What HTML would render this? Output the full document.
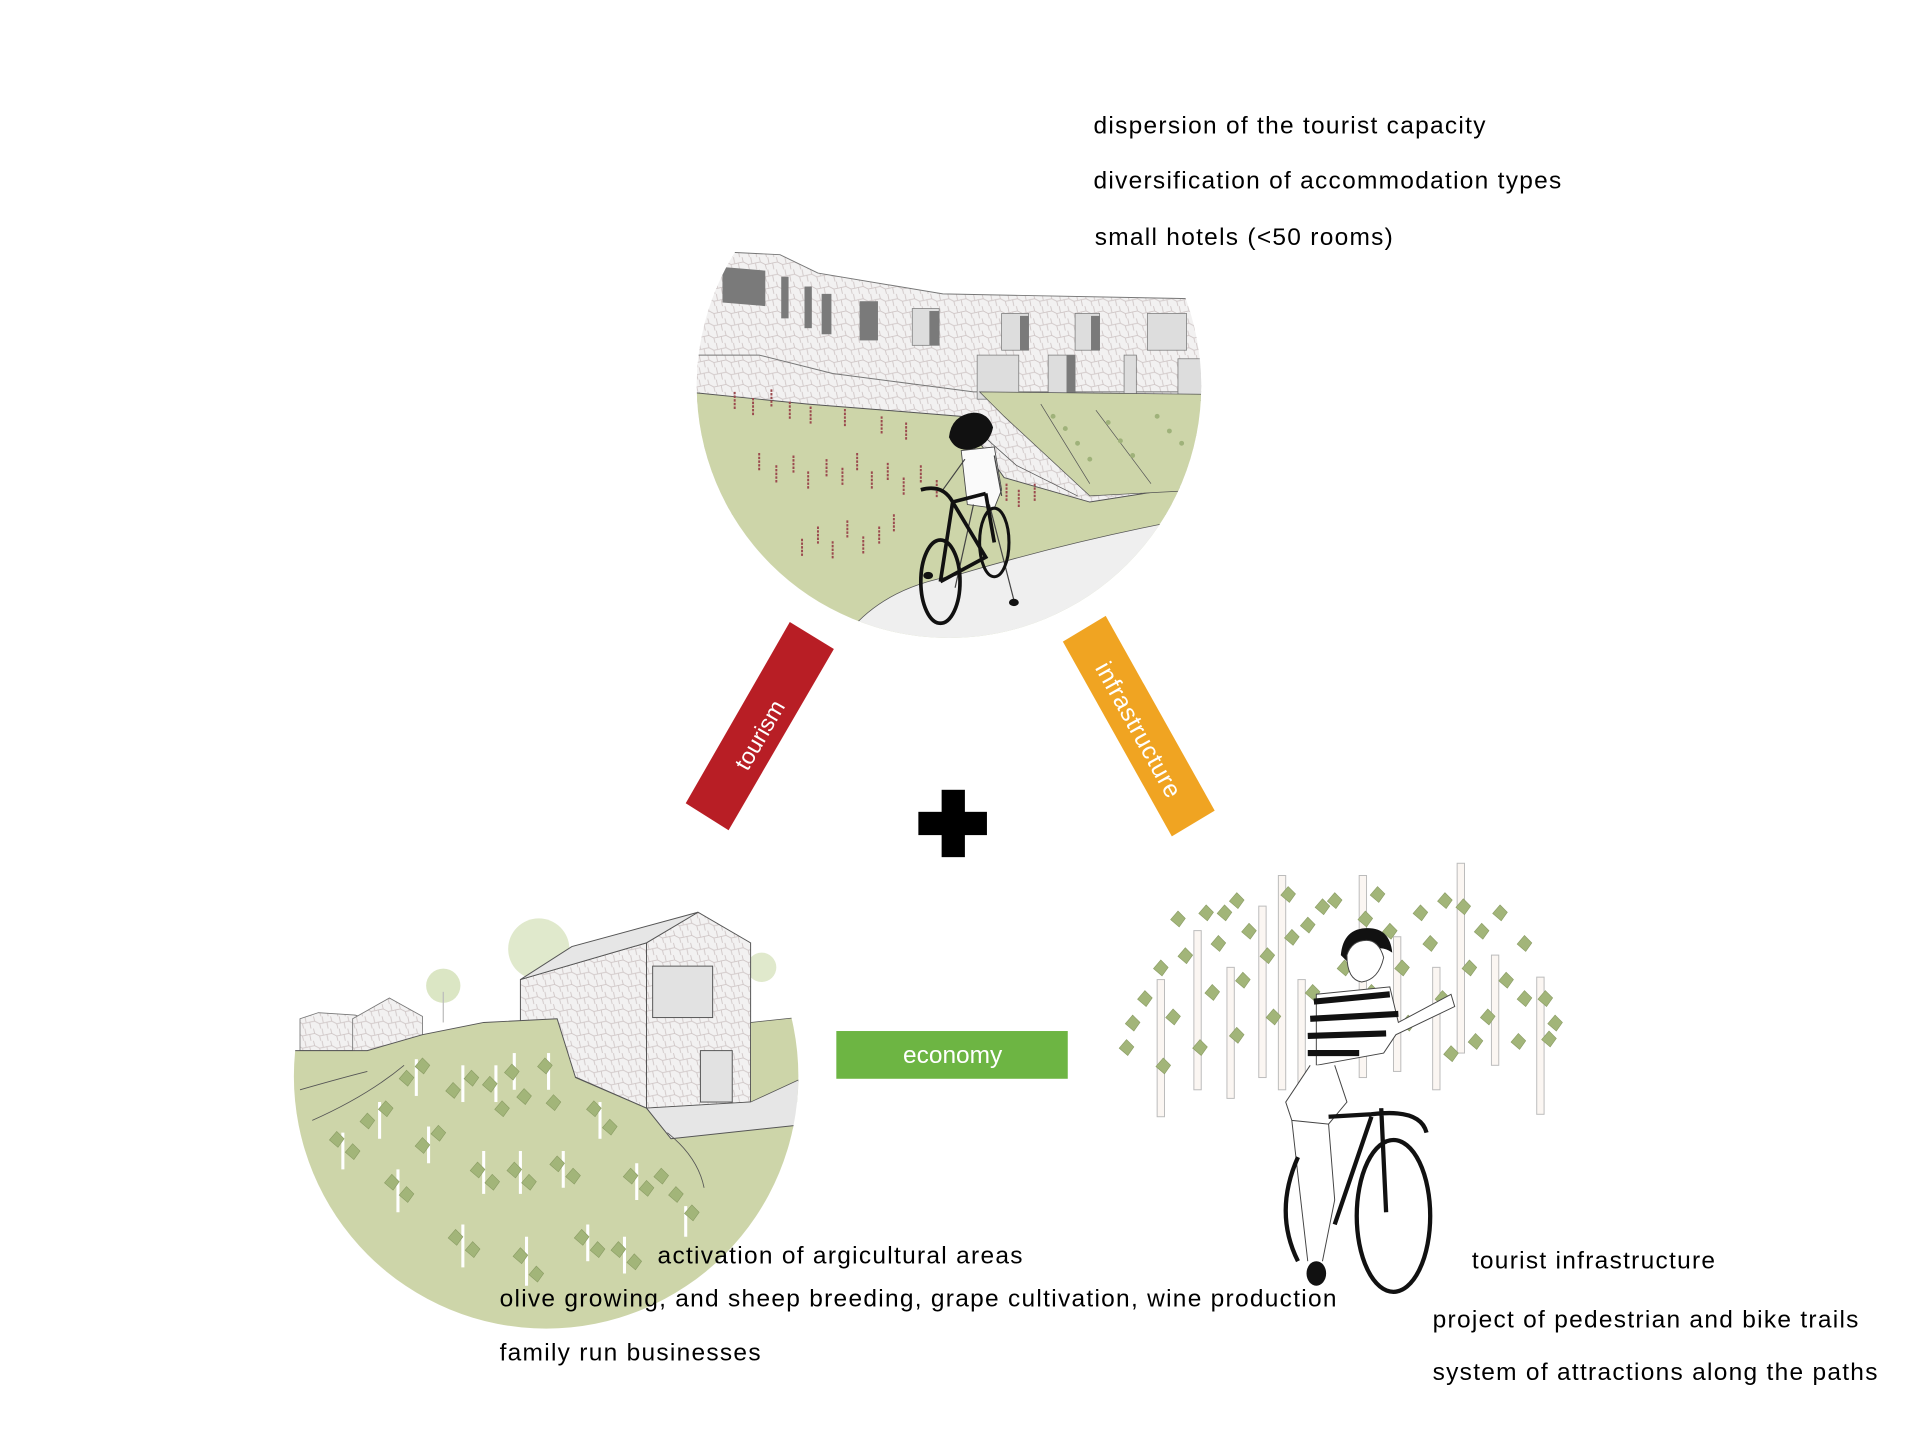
<!DOCTYPE html>
<html><head><meta charset="utf-8"><style>
html,body{margin:0;padding:0;background:#fff;}
svg{display:block;}
text{font-family:"Liberation Sans",Arial,sans-serif;}
</style></head><body>
<svg width="1920" height="1440" viewBox="0 0 1568 1176" xmlns="http://www.w3.org/2000/svg">
<defs>
<pattern id="stone" width="14" height="10" patternUnits="userSpaceOnUse">
<rect width="14" height="10" fill="#f2f1f1"/>
<path d="M0 5 L5 4 L9 6 L14 5 M5 4 L4 0 M9 6 L10 10 M2 10 L1 5 M12 5 L11 0" stroke="#cfc6c6" stroke-width="0.7" fill="none"/>
</pattern>
<clipPath id="c1"><circle cx="775" cy="315" r="206"/></clipPath>
<clipPath id="c2"><circle cx="446" cy="879" r="206"/></clipPath>
<g id="reed"><path d="M0 0 v14" stroke="#9b4a4e" stroke-width="1.6" stroke-dasharray="2 1"/></g>
<g id="lf"><path d="M0 -6 L6 0 L1 7 L-6 1 Z" fill="#a2b579" stroke="#8a9c64" stroke-width="0.5"/></g>
</defs>

<g clip-path="url(#c1)">
 <rect x="560" y="100" width="440" height="450" fill="#fff"/>
 <path d="M596 206 L637 208 L668 223 L770 240 L975 244 L985 330 L560 330 L560 240 Z" fill="url(#stone)" stroke="#777" stroke-width="0.8"/>
 <path d="M560 290 L620 290 L680 305 L795 320 L985 320 L985 420 L560 420 Z" fill="url(#stone)" stroke="#777" stroke-width="0.8"/>
 <path d="M590 218 L625 221 L625 250 L590 247Z" fill="#7a7a7a"/>
 <rect x="638" y="226" width="6" height="34" fill="#7a7a7a"/>
 <rect x="657" y="234" width="6" height="34" fill="#7a7a7a"/>
 <rect x="671" y="240" width="8" height="33" fill="#7a7a7a"/>
 <rect x="702" y="246" width="15" height="32" fill="#7a7a7a"/>
 <rect x="745" y="252" width="22" height="30" fill="#ddd" stroke="#777" stroke-width="0.6"/><rect x="759" y="254" width="8" height="28" fill="#7a7a7a"/>
 <rect x="818" y="256" width="22" height="30" fill="#ddd" stroke="#777" stroke-width="0.6"/><rect x="833" y="258" width="7" height="28" fill="#7a7a7a"/>
 <rect x="878" y="256" width="20" height="30" fill="#ddd" stroke="#777" stroke-width="0.6"/><rect x="891" y="258" width="7" height="28" fill="#7a7a7a"/>
 <rect x="937" y="256" width="32" height="30" fill="#ddd" stroke="#777" stroke-width="0.6"/>
 <rect x="798" y="290" width="34" height="36" fill="#ddd" stroke="#777" stroke-width="0.6"/>
 <rect x="856" y="290" width="22" height="36" fill="#ddd" stroke="#777" stroke-width="0.6"/><rect x="871" y="290" width="7" height="36" fill="#7a7a7a"/>
 <rect x="918" y="290" width="10" height="36" fill="#ddd" stroke="#777" stroke-width="0.6"/>
 <rect x="962" y="293" width="20" height="34" fill="#ddd" stroke="#777" stroke-width="0.6"/>
 <path d="M560 320 L660 330 L785 340 L820 390 L890 410 L985 395 L985 560 L560 560 Z" fill="#cdd5a9" stroke="#555" stroke-width="0.8"/>
 <path d="M800 320 L985 322 L985 400 L890 405 L820 340 Z" fill="#cdd5a9" stroke="#555" stroke-width="0.6"/>
 <path d="M785 340 L830 380 L880 405" fill="none" stroke="#555" stroke-width="0.6"/>
 <path d="M850 330 L890 395 M895 335 L940 395" stroke="#555" stroke-width="0.6"/>
 <path d="M690 520 Q720 480 780 470 Q880 440 990 420 L990 560 L690 560 Z" fill="#efefef" stroke="#555" stroke-width="0.6"/>
 <g>
  <use href="#reed" x="600" y="320"/><use href="#reed" x="615" y="325"/><use href="#reed" x="630" y="318"/><use href="#reed" x="645" y="328"/><use href="#reed" x="662" y="332"/><use href="#reed" x="690" y="334"/><use href="#reed" x="720" y="340"/><use href="#reed" x="740" y="345"/>
  <use href="#reed" x="620" y="370"/><use href="#reed" x="634" y="380"/><use href="#reed" x="648" y="372"/><use href="#reed" x="660" y="385"/><use href="#reed" x="675" y="375"/><use href="#reed" x="688" y="382"/><use href="#reed" x="700" y="370"/><use href="#reed" x="712" y="385"/><use href="#reed" x="725" y="378"/><use href="#reed" x="738" y="390"/><use href="#reed" x="752" y="380"/><use href="#reed" x="765" y="392"/><use href="#reed" x="822" y="395"/><use href="#reed" x="832" y="400"/><use href="#reed" x="845" y="395"/>
  <use href="#reed" x="655" y="440"/><use href="#reed" x="668" y="430"/><use href="#reed" x="680" y="442"/><use href="#reed" x="692" y="425"/><use href="#reed" x="705" y="438"/><use href="#reed" x="718" y="430"/><use href="#reed" x="730" y="420"/>
 </g>
 <g fill="#9fb27a"><circle cx="860" cy="340" r="2"/><circle cx="870" cy="350" r="2"/><circle cx="880" cy="362" r="2"/><circle cx="890" cy="375" r="2"/><circle cx="905" cy="345" r="2"/><circle cx="915" cy="360" r="2"/><circle cx="925" cy="372" r="2"/><circle cx="945" cy="340" r="2"/><circle cx="955" cy="352" r="2"/><circle cx="965" cy="362" r="2"/></g>
 <path d="M795 337 q-18 2 -20 20 q5 12 18 10 q15 -3 18 -18 q-4 -12 -16 -12Z" fill="#111"/>
 <path d="M785 368 L812 365 L818 400 L812 415 L790 412 Z" fill="#fafafa" stroke="#444" stroke-width="0.7"/>
 <path d="M788 375 L770 400 M812 372 L818 405 M795 412 L780 480 M808 412 L828 490" stroke="#444" stroke-width="1" fill="none"/>
 <ellipse cx="768" cy="475" rx="16" ry="34" fill="none" stroke="#111" stroke-width="3"/>
 <ellipse cx="812" cy="443" rx="12" ry="28" fill="none" stroke="#111" stroke-width="2.5"/>
 <path d="M752 400 Q770 395 778 410 L805 403 M778 410 L768 475 M778 410 L805 455 L768 475 M805 403 L812 443" stroke="#111" stroke-width="3" fill="none"/>
 <ellipse cx="828" cy="492" rx="4" ry="3" fill="#111"/><ellipse cx="758" cy="470" rx="4" ry="3" fill="#111"/>
</g>

<polygon points="645,508 681,530 595,678 560,656" fill="#b81e25"/>
<text transform="translate(620,600) rotate(-60)" font-size="19" fill="#fff" text-anchor="middle" dy="7">tourism</text>
<polygon points="868,524 903,503 992,662 957,683" fill="#f0a422"/>
<text transform="translate(930,596) rotate(61)" font-size="20" fill="#fff" text-anchor="middle" dy="7" letter-spacing="0.5">infrastructure</text>

<rect x="769" y="645" width="19" height="55" fill="#000"/>
<rect x="750" y="663" width="56" height="19" fill="#000"/>

<rect x="683" y="842" width="189" height="39" fill="#6db543"/>
<text x="778" y="868" font-size="20" fill="#fff" text-anchor="middle">economy</text>

<g>
 <circle cx="362" cy="805" r="14" fill="#dbe6c4"/><line x1="362" y1="810" x2="362" y2="835" stroke="#bbb"/>
 <circle cx="440" cy="775" r="25" fill="#e0e9cc"/>
 <circle cx="622" cy="790" r="12" fill="#e0e9cc"/>
 <polygon points="245,832 260,827 290,829 300,832 300,858 245,858" fill="url(#stone)" stroke="#777" stroke-width="0.7"/>
 <polygon points="288,832 318,815 345,830 345,850 300,860 288,860" fill="url(#stone)" stroke="#777" stroke-width="0.7"/>
 <polygon points="425,800 528,770 528,905 425,860" fill="url(#stone)" stroke="#555" stroke-width="0.8"/>
 <polygon points="528,770 570,745 613,770 613,900 528,905" fill="url(#stone)" stroke="#555" stroke-width="0.8"/>
 <polygon points="425,800 467,773 570,745 528,770" fill="#e6e6e6" stroke="#555" stroke-width="0.8"/>
 <rect x="533" y="789" width="49" height="42" fill="#e2e2e2" stroke="#555" stroke-width="0.8"/>
 <rect x="572" y="858" width="26" height="42" fill="#e2e2e2" stroke="#555" stroke-width="0.8"/>
</g>
<g clip-path="url(#c2)">
 <polygon points="613,835 660,830 660,900 613,900" fill="#cdd5a9" stroke="#555" stroke-width="0.6"/>
 <polygon points="528,905 613,900 652,882 660,920 548,930" fill="#e6e6e6" stroke="#555" stroke-width="0.6"/>
 <path d="M235 858 L300 858 L345 845 L395 835 L455 832 L470 880 L528 905 L548 930 L660 918 L660 1100 L235 1100 Z" fill="#cdd5a9" stroke="#555" stroke-width="0.8"/>
 <path d="M245 890 Q280 880 300 875 M255 915 Q300 895 330 870 M545 925 Q570 945 575 970" fill="none" stroke="#555" stroke-width="0.7"/>
 <g stroke="#fff" stroke-width="2.5">
  <line x1="280" y1="925" x2="280" y2="955"/><line x1="310" y1="900" x2="310" y2="930"/><line x1="340" y1="865" x2="340" y2="895"/>
  <line x1="325" y1="955" x2="325" y2="990"/><line x1="350" y1="920" x2="350" y2="950"/><line x1="378" y1="870" x2="378" y2="900"/>
  <line x1="378" y1="1000" x2="378" y2="1035"/><line x1="395" y1="940" x2="395" y2="975"/><line x1="405" y1="870" x2="405" y2="900"/>
  <line x1="430" y1="1010" x2="430" y2="1050"/><line x1="425" y1="940" x2="425" y2="975"/><line x1="420" y1="860" x2="420" y2="890"/>
  <line x1="480" y1="1000" x2="480" y2="1030"/><line x1="460" y1="940" x2="460" y2="970"/><line x1="448" y1="860" x2="448" y2="890"/>
  <line x1="510" y1="1010" x2="510" y2="1040"/><line x1="520" y1="950" x2="520" y2="980"/><line x1="560" y1="985" x2="560" y2="1010"/><line x1="490" y1="900" x2="490" y2="930"/>
 </g>
 <g>
  <use href="#lf" x="275" y="930"/><use href="#lf" x="288" y="940"/><use href="#lf" x="300" y="915"/><use href="#lf" x="315" y="905"/><use href="#lf" x="332" y="880"/><use href="#lf" x="345" y="870"/>
  <use href="#lf" x="320" y="965"/><use href="#lf" x="332" y="975"/><use href="#lf" x="345" y="935"/><use href="#lf" x="358" y="925"/><use href="#lf" x="370" y="890"/><use href="#lf" x="385" y="880"/>
  <use href="#lf" x="372" y="1010"/><use href="#lf" x="386" y="1020"/><use href="#lf" x="390" y="955"/><use href="#lf" x="402" y="965"/><use href="#lf" x="400" y="885"/><use href="#lf" x="410" y="905"/>
  <use href="#lf" x="425" y="1025"/><use href="#lf" x="438" y="1040"/><use href="#lf" x="420" y="955"/><use href="#lf" x="432" y="965"/><use href="#lf" x="418" y="875"/><use href="#lf" x="428" y="895"/>
  <use href="#lf" x="475" y="1010"/><use href="#lf" x="488" y="1020"/><use href="#lf" x="455" y="950"/><use href="#lf" x="468" y="960"/><use href="#lf" x="445" y="870"/><use href="#lf" x="452" y="900"/>
  <use href="#lf" x="505" y="1020"/><use href="#lf" x="518" y="1030"/><use href="#lf" x="515" y="960"/><use href="#lf" x="528" y="970"/><use href="#lf" x="485" y="905"/><use href="#lf" x="498" y="920"/>
  <use href="#lf" x="540" y="960"/><use href="#lf" x="552" y="975"/><use href="#lf" x="565" y="990"/>
 </g>
</g>

<g fill="#fbf6f2" stroke="#bbb" stroke-width="0.8">
 <rect x="945" y="800" width="6" height="112"/><rect x="975" y="760" width="6" height="130"/><rect x="1002" y="790" width="6" height="107"/>
 <rect x="1028" y="740" width="6" height="140"/><rect x="1044" y="715" width="6" height="175"/><rect x="1060" y="800" width="6" height="100"/>
 <rect x="1110" y="715" width="6" height="165"/><rect x="1138" y="765" width="6" height="110"/><rect x="1170" y="790" width="6" height="100"/>
 <rect x="1190" y="705" width="6" height="155"/><rect x="1218" y="780" width="6" height="90"/><rect x="1255" y="798" width="6" height="112"/>
</g>
<g>
 <use href="#lf" x="925" y="835"/><use href="#lf" x="935" y="815"/><use href="#lf" x="920" y="855"/><use href="#lf" x="948" y="790"/><use href="#lf" x="958" y="830"/><use href="#lf" x="962" y="750"/><use href="#lf" x="968" y="780"/><use href="#lf" x="985" y="745"/><use href="#lf" x="990" y="810"/><use href="#lf" x="995" y="770"/>
 <use href="#lf" x="1010" y="735"/><use href="#lf" x="1015" y="800"/><use href="#lf" x="1020" y="760"/><use href="#lf" x="1035" y="780"/><use href="#lf" x="1040" y="830"/><use href="#lf" x="1052" y="730"/><use href="#lf" x="1055" y="765"/><use href="#lf" x="1068" y="755"/><use href="#lf" x="1072" y="810"/><use href="#lf" x="1080" y="740"/>
 <use href="#lf" x="1090" y="735"/><use href="#lf" x="1098" y="790"/><use href="#lf" x="1115" y="750"/><use href="#lf" x="1125" y="730"/><use href="#lf" x="1135" y="760"/><use href="#lf" x="1145" y="790"/><use href="#lf" x="1150" y="835"/><use href="#lf" x="1160" y="745"/><use href="#lf" x="1168" y="770"/><use href="#lf" x="1178" y="815"/>
 <use href="#lf" x="1185" y="860"/><use href="#lf" x="1195" y="740"/><use href="#lf" x="1200" y="790"/><use href="#lf" x="1210" y="760"/><use href="#lf" x="1215" y="830"/><use href="#lf" x="1225" y="745"/><use href="#lf" x="1230" y="800"/><use href="#lf" x="1240" y="850"/><use href="#lf" x="1245" y="770"/><use href="#lf" x="1262" y="815"/>
 <use href="#lf" x="1270" y="835"/><use href="#lf" x="1265" y="848"/><use href="#lf" x="1010" y="845"/><use href="#lf" x="980" y="855"/><use href="#lf" x="1205" y="850"/><use href="#lf" x="1180" y="735"/><use href="#lf" x="1000" y="745"/><use href="#lf" x="950" y="870"/><use href="#lf" x="1245" y="815"/><use href="#lf" x="1120" y="810"/>
</g>
<g>
 <path d="M1095 780 q2 -22 22 -22 q18 0 20 20 q-8 -6 -18 -2 q-10 0 -14 14 Z" fill="#111"/>
 <path d="M1100 780 q0 20 12 22 q14 -2 18 -20 q-4 -14 -14 -14 q-12 0 -16 12Z" fill="#fff" stroke="#444" stroke-width="0.8"/>
 <path d="M1075 812 L1135 806 L1142 835 L1185 812 L1188 822 L1140 845 L1130 860 L1075 870 Z" fill="#fff" stroke="#444" stroke-width="0.8"/>
 <g stroke="#111" stroke-width="5"><line x1="1073" y1="818" x2="1135" y2="812"/><line x1="1070" y1="832" x2="1142" y2="828"/><line x1="1068" y1="846" x2="1132" y2="844"/><line x1="1068" y1="860" x2="1110" y2="860"/></g>
 <path d="M1070 870 L1050 900 L1055 915 L1085 918 L1100 900 L1090 870" fill="#fff" stroke="#444" stroke-width="0.8"/>
 <path d="M1055 915 L1060 960 L1068 1030 M1085 918 L1090 980 L1080 1030" fill="none" stroke="#444" stroke-width="0.8"/>
 <ellipse cx="1075" cy="1040" rx="8" ry="10" fill="#111"/>
 <ellipse cx="1138" cy="993" rx="30" ry="62" fill="none" stroke="#111" stroke-width="3.5"/>
 <path d="M1060 945 Q1040 990 1060 1030" fill="none" stroke="#111" stroke-width="3.5"/>
 <path d="M1085 912 L1120 910 Q1160 905 1165 925 M1128 905 L1132 990 M1120 912 L1090 1000" fill="none" stroke="#111" stroke-width="3.5"/>
</g>

<g font-size="20" fill="#000" letter-spacing="1.05">
 <text x="893" y="109">dispersion of the tourist capacity</text>
 <text x="893" y="154">diversification of accommodation types</text>
 <text x="894" y="200">small hotels (&lt;50 rooms)</text>
 <text x="537" y="1032">activation of argicultural areas</text>
 <text x="408" y="1067">olive growing, and sheep breeding, grape cultivation, wine production</text>
 <text x="408" y="1111">family run businesses</text>
 <text x="1202" y="1036">tourist infrastructure</text>
 <text x="1170" y="1084">project of pedestrian and bike trails</text>
 <text x="1170" y="1127">system of attractions along the paths</text>
</g>
</svg>
</body></html>
